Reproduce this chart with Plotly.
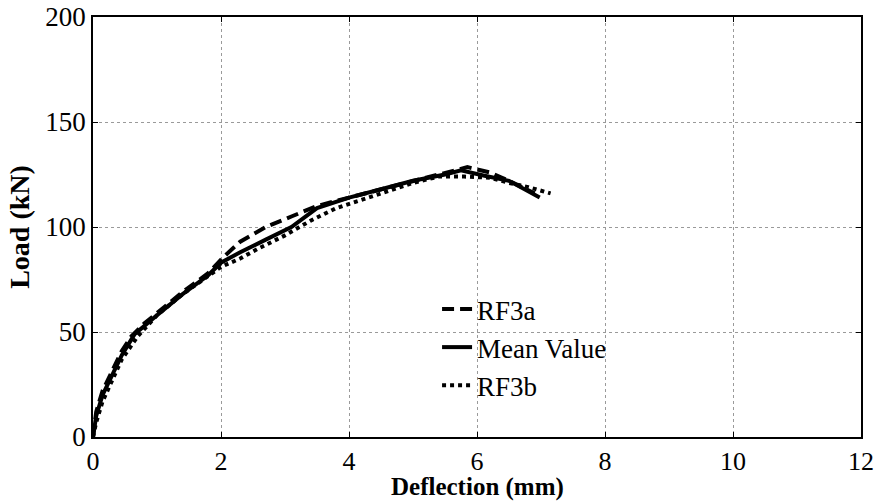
import plotly.graph_objects as go

# RF3a (dashed)
rf3a_x = [0, 0.05, 0.15, 0.3, 0.45, 0.6, 0.8, 1.0, 1.4, 1.8, 2.05, 2.3, 2.7, 3.1, 3.5, 4.0, 4.5, 5.0, 5.5, 5.85, 6.2, 6.5, 6.9]
rf3a_y = [0, 12, 22, 32, 41, 48, 54, 59, 69, 78, 86, 93, 100, 105, 110, 114, 118, 122, 126, 128.5, 126, 122, 116]

# Mean value (solid)
mean_x = [0, 0.05, 0.15, 0.3, 0.45, 0.65, 0.8, 1.0, 1.4, 1.8, 2.0, 2.3, 2.7, 3.1, 3.5, 4.0, 4.5, 5.0, 5.5, 5.75, 6.1, 6.5, 6.98]
mean_y = [0, 10, 20, 30, 39, 49, 53, 58, 68, 77, 83, 88, 94, 100, 109, 114, 118, 122, 125, 127, 124.5, 122, 114]

# RF3b (dotted)
rf3b_x = [0, 0.05, 0.15, 0.3, 0.45, 0.7, 0.85, 1.0, 1.4, 1.8, 2.0, 2.3, 2.6, 3.0, 3.4, 3.8, 4.2, 4.6, 5.0, 5.4, 5.8, 6.2, 6.5, 6.8, 7.15]
rf3b_y = [0, 7, 17, 27, 37, 48, 53, 58, 68, 77, 81, 85, 90, 96, 103, 109, 113, 117, 121, 124, 124, 123.5, 121, 119, 116]

x_ticks = [0, 2, 4, 6, 8, 10, 12]
y_ticks = [0, 50, 100, 150, 200]

fig = go.Figure()
fig.add_trace(go.Scatter(x=rf3a_x, y=rf3a_y, mode="lines", name="RF3a", legendgroup="a",
                         line=dict(color="black", width=4, dash="12px,6px")))
fig.add_trace(go.Scatter(x=mean_x, y=mean_y, mode="lines", name="Mean Value", legendgroup="m",
                         line=dict(color="black", width=4)))
fig.add_trace(go.Scatter(x=rf3b_x, y=rf3b_y, mode="lines", name="RF3b", legendgroup="b",
                         line=dict(color="black", width=4, dash="4px,4px")))

font_family = "Liberation Serif, Times New Roman, serif"
axis_common = dict(
    showline=True, linecolor="black", linewidth=1.5, mirror="allticks",
    ticks="inside", ticklen=5, tickcolor="black",
    showgrid=True, gridcolor="#9a9a9a", gridwidth=1, griddash="dot",
    zeroline=False, automargin=False, ticklabeloverflow="allow",
)

fig.update_layout(
    width=880, height=504,
    margin=dict(l=93, r=19, t=17, b=67),
    paper_bgcolor="white", plot_bgcolor="white",
    font=dict(family=font_family, color="black"),
    xaxis=dict(range=[0, 12], tickvals=x_ticks, ticktext=[str(v) for v in x_ticks],
               tickfont=dict(family=font_family, size=26, color="black"),
               **axis_common),
    yaxis=dict(range=[0, 200], tickvals=y_ticks, ticktext=[str(v) for v in y_ticks],
               tickfont=dict(family=font_family, size=27, color="black"),
               title=dict(text="<b>Load (kN)</b>", font=dict(family=font_family, size=28), standoff=8),
               **axis_common),
    legend=dict(x=0.448, y=0.362, xanchor="left", yanchor="top",
                bgcolor="rgba(0,0,0,0)", borderwidth=0,
                font=dict(family=font_family, size=27, color="black"),
                traceorder="grouped", tracegroupgap=0),
    annotations=[dict(text="<b>Deflection (mm)</b>", xref="paper", yref="paper",
                      x=0.5, y=0, xanchor="center", yanchor="top", yshift=-35, borderpad=0,
                      showarrow=False, font=dict(family=font_family, size=25, color="black"))],
)

fig.write_html("out.html", config={"displayModeBar": False},
               post_script="document.body.style.margin='0';document.body.style.overflow='hidden';")
